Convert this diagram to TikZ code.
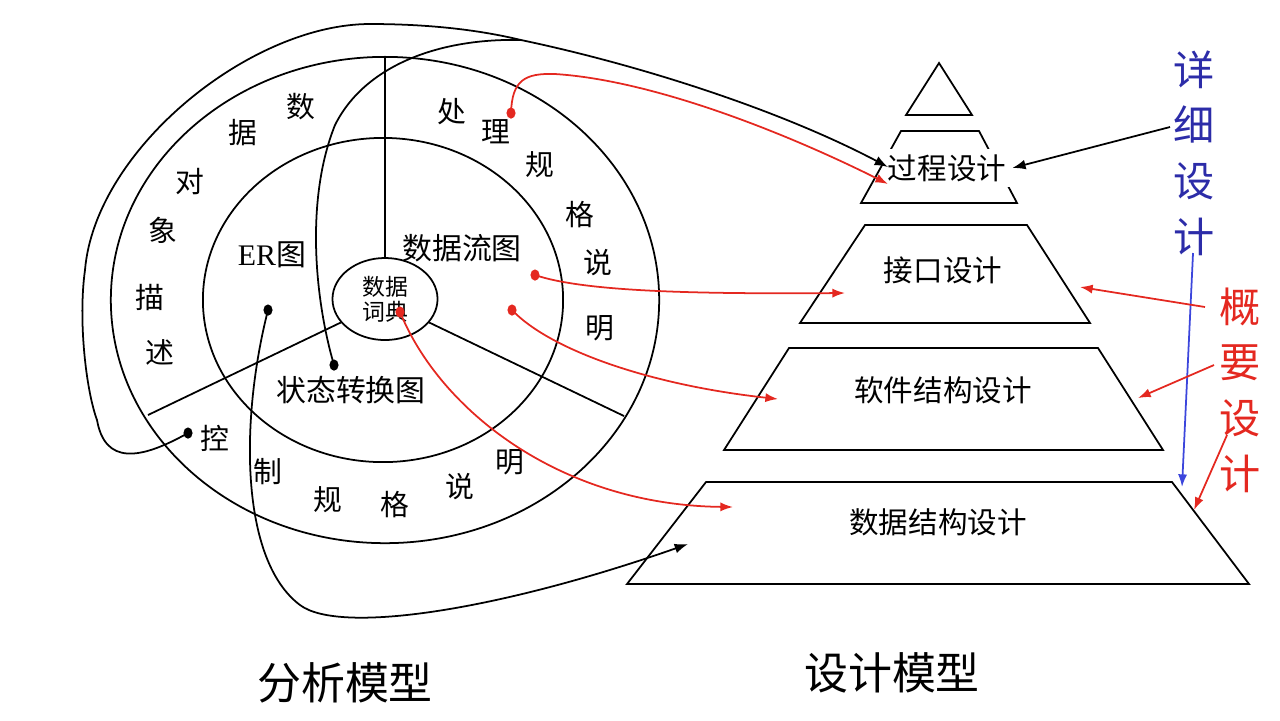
\documentclass[tikz,border=0pt]{standalone}
\usepackage{fontspec}
\setmainfont{Liberation Serif}
\newfontfamily\cjk{Noto Sans CJK SC}
\usetikzlibrary{shapes.geometric,arrows.meta}
\definecolor{specred}{RGB}{228,40,32}
\definecolor{detailblue}{RGB}{44,44,168}
\definecolor{lineblue}{RGB}{60,70,220}
\tikzset{
    node style ring/.style={font=\cjk\fontsize{8.2}{8.5}\selectfont,inner sep=0pt},
    node style inner/.style={font=\cjk\fontsize{8.5}{9}\selectfont,inner sep=1pt},
    node style level/.style={font=\cjk\fontsize{8.4}{9}\selectfont,inner sep=1.5pt},
    node style title/.style={font=\cjk\fontsize{12.5}{13}\selectfont,inner sep=1pt},
    node style side/.style={font=\cjk\fontsize{11.7}{15.8}\selectfont,align=center,inner sep=1pt},
    node style dot/.style={ellipse,fill,inner sep=0pt,minimum width=2.6pt,minimum height=3.2pt},
    arrow style red/.style={draw=specred,-{Latex[length=3.6pt,width=2.6pt]}},
    arrow style black/.style={draw,-{Latex[length=3.8pt,width=2.8pt]}},
}

\begin{document}
\begin{tikzpicture}[x=0.01cm,y=-0.01cm,line width=0.5pt]
\useasboundingbox (0,0) rectangle (1280,720);

% analysis model
\draw (385,300) ellipse [x radius=2.74cm,y radius=2.43cm];
\draw (383,300) ellipse [x radius=1.80cm,y radius=1.62cm];
\node [draw,ellipse,minimum width=1.05cm,minimum height=0.82cm,inner sep=0pt,
       align=center,font=\cjk\fontsize{6.5}{7.2}\selectfont] (dict) at (385,299) {数据\\词典};
\coordinate (ringT) at (385,57);
\coordinate (ringL) at (148,415);
\coordinate (ringR) at (624,416);
\draw (dict.north) -- (dict.north |- ringT);
\draw (dict.208) -- (ringL);
\draw (dict.-28) -- (ringR);

\node [node style inner] (er) at (272,255) {\textrm{ER}图};
\node [node style inner] (dfd) at (462,248) {数据流图};
\node [node style inner] (std) at (351,390) {状态转换图};

\foreach \ch/\px/\py [count=\i] in {数/301/107,据/243/133,对/190/182,象/163/230,描/150/297,述/160/352}
  \node [node style ring] (obj-\i) at (\px,\py) {\ch};
\foreach \ch/\px/\py [count=\i] in {处/452/112,理/496/132,规/540/165,格/580/215,说/598/263,明/600/328}
  \node [node style ring] (proc-\i) at (\px,\py) {\ch};
\foreach \ch/\px/\py [count=\i] in {控/215/438,制/268/472,规/328/500,格/395/505,说/460/487,明/510/462}
  \node [node style ring] (ctrl-\i) at (\px,\py) {\ch};

% design model
\draw (939,63) -- (906,115) -- (972,115) -- cycle;
\draw (901,131) -- (979,131) -- (1017,203) -- (861,203) -- cycle;
\draw (865,225) -- (1027,225) -- (1090,323) -- (800,323) -- cycle;
\draw (789,348) -- (1098,348) -- (1163,450) -- (724,450) -- cycle;
\draw (706,482) -- (1172,482) -- (1249,584) -- (627,584) -- cycle;
\node [node style level,fill=white] (procdesign) at (947,168) {过程设计};
\node [node style level] (ifacedesign) at (943,270) {接口设计};
\node [node style level] (archdesign) at (943,390) {软件结构设计};
\node [node style level] (datadesign) at (938,522) {数据结构设计};

\node [node style side,text=detailblue] (detail) at (1194,153) {详\\细\\设\\计};
\node [node style side,text=specred] (outline) at (1240,390) {概\\要\\设\\计};

\node [node style title] (analysis) at (345,683) {分析模型};
\node [node style title] (design) at (892,673) {设计模型};

% dots
\node [node style dot,specred] (dProc) at (511,113) {};
\node [node style dot,specred] (dFlow) at (535,275) {};
\node [node style dot,specred] (dFlow2) at (512,310) {};
\node [node style dot,specred] (dDict) at (400,312) {};
\node [node style dot] (dState) at (334,365) {};
\node [node style dot] (dER) at (268,310) {};
\node [node style dot] (dCtrl) at (188,433) {};

\coordinate (merge) at (521,40);
\coordinate (inProcR) at (888,184);
\coordinate (inProcK) at (888,167);
\coordinate (inIface) at (845,293);
\coordinate (inArch) at (778,399);
\coordinate (inData) at (733,507);
\coordinate (inDataK) at (688,544);

% red links
\draw [arrow style red] (dProc.center) .. controls (512,80) and (525,73) .. (555,74)
      .. controls (650,80) and (780,130) .. (inProcR);
\draw [arrow style red] (dFlow.center) .. controls (585,292) and (700,294) .. (inIface);
\draw [arrow style red] (dFlow2.center) .. controls (550,350) and (650,385) .. (inArch);
\draw [arrow style red] (dDict.center) .. controls (440,410) and (560,505) .. (inData);

% black links
\draw (dState.center) .. controls (315,300) and (305,200) .. (335,125)
      .. controls (365,65) and (440,38) .. (merge);
\draw [arrow style black] (dCtrl.center) .. controls (140,460) and (105,465) .. (97,420)
      .. controls (86,390) and (78,320) .. (85,270)
      .. controls (95,150) and (250,24) .. (370,24)
      .. controls (450,24) and (500,35) .. (merge)
      .. controls (640,65) and (780,110) .. (inProcK);
\draw [arrow style black] (dER.center) .. controls (240,420) and (240,560) .. (300,605)
      .. controls (340,635) and (500,610) .. (inDataK);

% side arrows
\coordinate (fromDetail) at (1170,127);
\coordinate (detailFoot) at (1193,253);
\coordinate (toBase) at (1182,487);
\coordinate (fromGai) at (1205,307);
\coordinate (fromYao) at (1214,365);
\coordinate (fromShe) at (1227,435);
\coordinate (toIface) at (1080,287);
\coordinate (toArch) at (1138,398);
\coordinate (toData) at (1194,510);
\draw [arrow style black] (fromDetail) -- (procdesign.east);
\draw [draw=lineblue,-{Latex[length=3.6pt,width=2.6pt]}] (detailFoot) -- (toBase);
\draw [arrow style red] (fromGai) -- (toIface);
\draw [arrow style red] (fromYao) -- (toArch);
\draw [arrow style red] (fromShe) -- (toData);
\end{tikzpicture}
\end{document}
